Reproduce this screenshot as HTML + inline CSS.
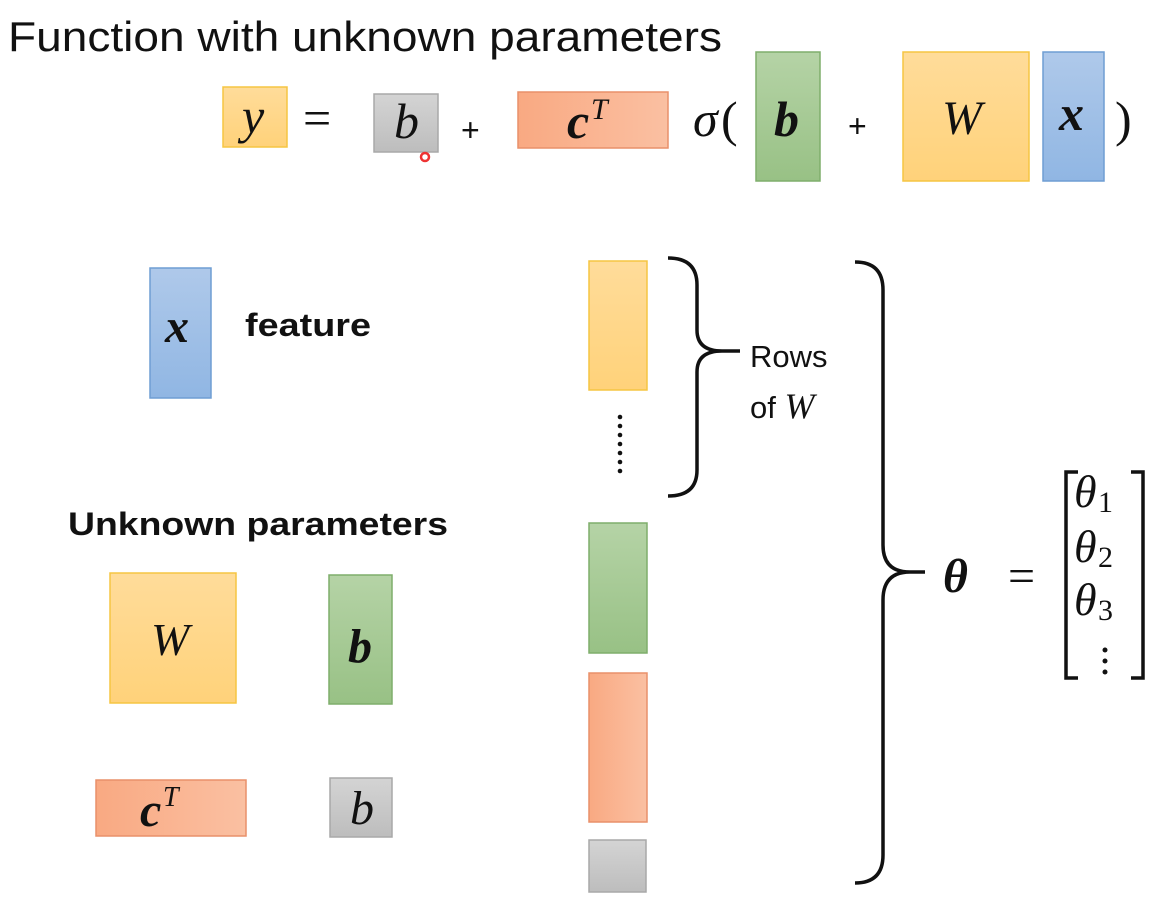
<!DOCTYPE html>
<html><head><meta charset="utf-8"><style>
html,body{margin:0;padding:0;background:#fff;width:1166px;height:910px;overflow:hidden}
</style></head><body>
<svg width="1166" height="910" viewBox="0 0 1166 910" xmlns="http://www.w3.org/2000/svg">
<defs>
<linearGradient id="yel" x1="0" y1="0" x2="0" y2="1"><stop offset="0" stop-color="#ffdc9a"/><stop offset="1" stop-color="#ffd27a"/></linearGradient>
<linearGradient id="grn" x1="0" y1="0" x2="0" y2="1"><stop offset="0" stop-color="#b5d3a6"/><stop offset="1" stop-color="#98c185"/></linearGradient>
<linearGradient id="blu" x1="0" y1="0" x2="0" y2="1"><stop offset="0" stop-color="#afc9ea"/><stop offset="1" stop-color="#90b6e3"/></linearGradient>
<linearGradient id="org" x1="0" y1="0" x2="1" y2="0"><stop offset="0" stop-color="#f9a982"/><stop offset="1" stop-color="#fac0a2"/></linearGradient>
<linearGradient id="gry" x1="0" y1="0" x2="0" y2="1"><stop offset="0" stop-color="#d4d4d4"/><stop offset="1" stop-color="#bdbdbd"/></linearGradient>
</defs>
<g font-family="Liberation Sans, sans-serif">
<text x="8" y="51" font-size="42" textLength="714" lengthAdjust="spacingAndGlyphs" fill="#111">Function with unknown parameters</text>
</g>
<!-- top row -->
<g stroke-width="1.5">
<rect x="223" y="87" width="64" height="60" fill="url(#yel)" stroke="#f5c542"/>
<rect x="374" y="94" width="64" height="58" fill="url(#gry)" stroke="#a8a8a8"/>
<rect x="518" y="92" width="150" height="56" fill="url(#org)" stroke="#e9906a"/>
<rect x="756" y="52" width="64" height="129" fill="url(#grn)" stroke="#7fae6b"/>
<rect x="903" y="52" width="126" height="129" fill="url(#yel)" stroke="#f5c542"/>
<rect x="1043" y="52" width="61" height="129" fill="url(#blu)" stroke="#6f9dd3"/>
</g>
<circle cx="425" cy="157" r="4" fill="none" stroke="#e33" stroke-width="2.5"/>
<g font-family="Liberation Serif, serif" fill="#111">
<text x="242" y="133" font-size="50" font-style="italic">y</text>
<text x="303" y="135" font-size="50">=</text>
<text x="394" y="138" font-size="50" font-style="italic">b</text>
<text x="461" y="141" font-size="32" font-family="Liberation Sans, sans-serif">+</text>
<text x="567" y="138" font-size="50" font-style="italic" font-weight="bold">c</text>
<text x="591" y="119" font-size="30" font-style="italic">T</text>
<text x="693" y="136" font-size="50" font-style="italic">σ</text>
<text x="721" y="136" font-size="50">(</text>
<text x="774" y="136" font-size="50" font-style="italic" font-weight="bold">b</text>
<text x="848" y="137" font-size="32" font-family="Liberation Sans, sans-serif">+</text>
<text x="942" y="134" font-size="48" font-style="italic">W</text>
<text x="1059" y="130" font-size="50" font-style="italic" font-weight="bold">x</text>
<text x="1115" y="136" font-size="50">)</text>
</g>
<!-- left middle -->
<g stroke-width="1.5">
<rect x="150" y="268" width="61" height="130" fill="url(#blu)" stroke="#6f9dd3"/>
<rect x="110" y="573" width="126" height="130" fill="url(#yel)" stroke="#f5c542"/>
<rect x="329" y="575" width="63" height="129" fill="url(#grn)" stroke="#7fae6b"/>
<rect x="96" y="780" width="150" height="56" fill="url(#org)" stroke="#e9906a"/>
<rect x="330" y="778" width="62" height="59" fill="url(#gry)" stroke="#a8a8a8"/>
</g>
<g font-family="Liberation Sans, sans-serif" font-weight="bold" fill="#111">
<text x="245" y="336" font-size="32" textLength="126" lengthAdjust="spacingAndGlyphs">feature</text>
<text x="68" y="535" font-size="32" textLength="380" lengthAdjust="spacingAndGlyphs">Unknown parameters</text>
</g>
<g font-family="Liberation Serif, serif" fill="#111">
<text x="165" y="342" font-size="48" font-style="italic" font-weight="bold">x</text>
<text x="151" y="655" font-size="46" font-style="italic">W</text>
<text x="348" y="662" font-size="48" font-style="italic" font-weight="bold">b</text>
<text x="140" y="826" font-size="48" font-style="italic" font-weight="bold">c</text>
<text x="163" y="806" font-size="28" font-style="italic">T</text>
<text x="350" y="824" font-size="48" font-style="italic">b</text>
</g>
<!-- column -->
<g stroke-width="1.5">
<rect x="589" y="261" width="58" height="129" fill="url(#yel)" stroke="#f5c542"/>
<rect x="589" y="523" width="58" height="130" fill="url(#grn)" stroke="#7fae6b"/>
<rect x="589" y="673" width="58" height="149" fill="url(#org)" stroke="#e9906a"/>
<rect x="589" y="840" width="57" height="52" fill="url(#gry)" stroke="#a8a8a8"/>
</g>
<g fill="#111">
<circle cx="620" cy="417" r="2.3"/><circle cx="620" cy="426" r="2.3"/><circle cx="620" cy="435" r="2.3"/><circle cx="620" cy="444" r="2.3"/><circle cx="620" cy="453" r="2.3"/><circle cx="620" cy="462" r="2.3"/><circle cx="620" cy="471" r="2.3"/>
</g>
<!-- braces -->
<g fill="none" stroke="#111" stroke-width="3.5">
<path d="M668 258 Q697 258 697 285 L697 330 Q697 351 722 351 L740 351 M722 351 Q697 351 697 372 L697 470 Q697 496 668 496"/>
<path d="M855 262 Q883 262 883 290 L883 545 Q883 572 910 572 L925 572 M910 572 Q883 572 883 600 L883 855 Q883 883 855 883"/>
<path d="M1078 472 L1066 472 L1066 678 L1078 678"/>
<path d="M1131 472 L1143 472 L1143 678 L1131 678"/>
</g>
<g font-family="Liberation Sans, sans-serif" fill="#111" font-size="31">
<text x="750" y="367">Rows</text>
<text x="750" y="418">of <tspan font-family="Liberation Serif, serif" font-style="italic" font-size="36">W</tspan></text>
</g>
<g font-family="Liberation Serif, serif" fill="#111">
<text x="943" y="592" font-size="48" font-style="italic" font-weight="bold">θ</text>
<text x="1008" y="592" font-size="48">=</text>
<text x="1074" y="507" font-size="46" font-style="italic">θ</text><text x="1098" y="512" font-size="30">1</text>
<text x="1074" y="562" font-size="46" font-style="italic">θ</text><text x="1098" y="567" font-size="30">2</text>
<text x="1074" y="615" font-size="46" font-style="italic">θ</text><text x="1098" y="620" font-size="30">3</text>
</g>
<g fill="#111"><circle cx="1105" cy="650" r="2.5"/><circle cx="1105" cy="661" r="2.5"/><circle cx="1105" cy="672" r="2.5"/></g>
</svg>
</body></html>
